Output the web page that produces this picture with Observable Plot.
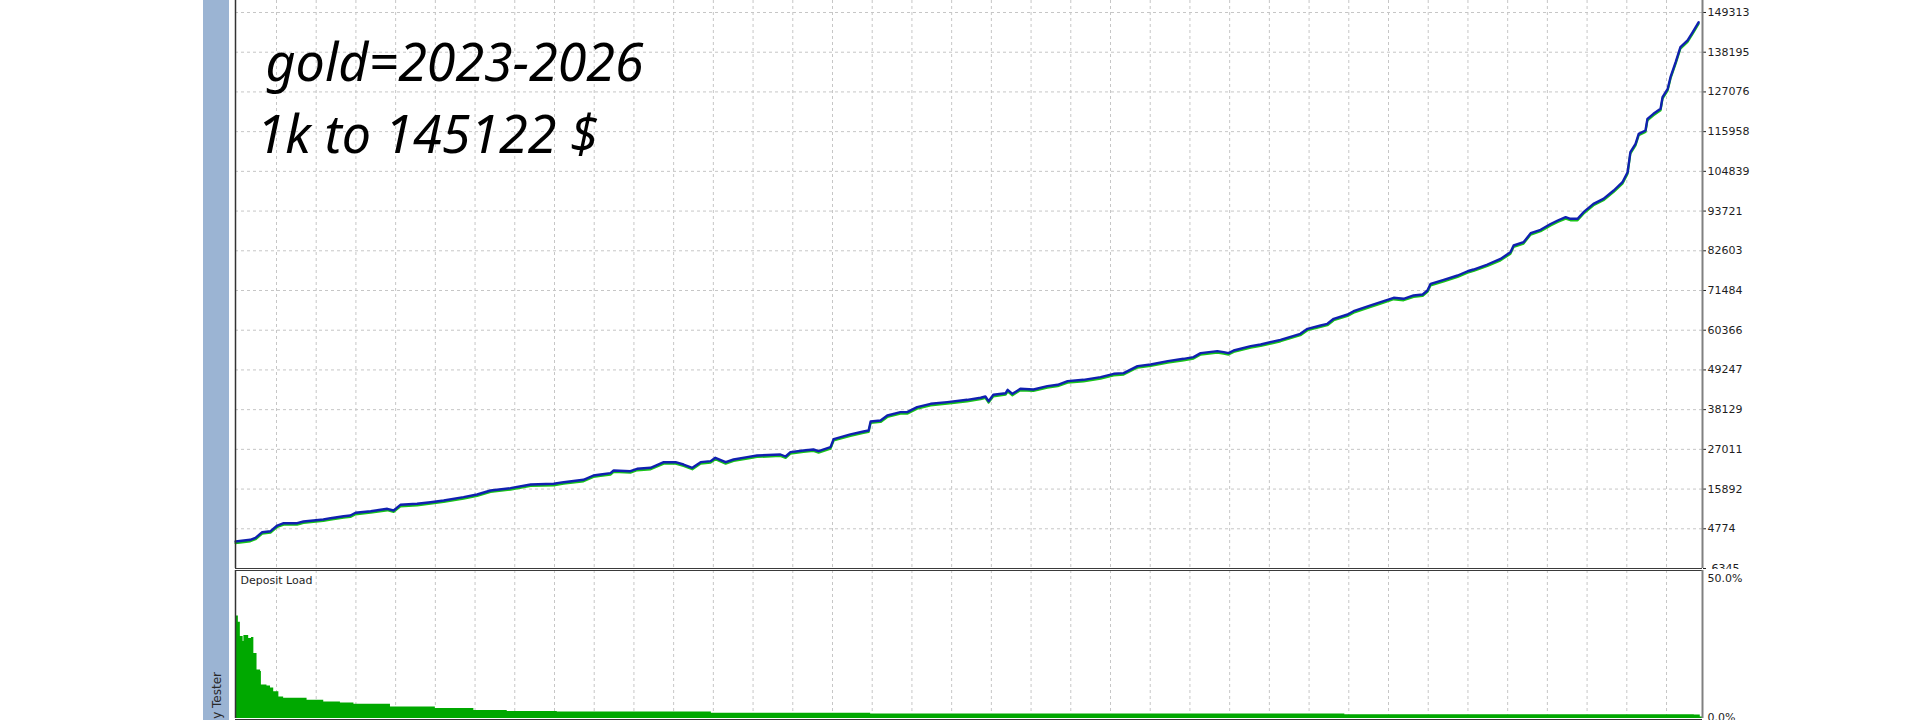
<!DOCTYPE html>
<html>
<head>
<meta charset="utf-8">
<script src="https://cdn.jsdelivr.net/npm/d3@7"></script>
<script src="https://cdn.jsdelivr.net/npm/@observablehq/plot@0.6"></script>
<style>
  html, body { margin: 0; padding: 0; background: #fff; width: 1920px; height: 720px; overflow: hidden; }
  #root { position: relative; width: 1920px; height: 720px; background: #fff; overflow: hidden; }
  #side { position: absolute; left: 203px; top: 0; width: 26px; height: 720px; background: #9bb4d3; z-index: 5; }
  #side svg { position: absolute; left: 0; top: 0; }
  #topPanel { position: absolute; left: 0; top: 0; z-index: 1; }
  #botPanel { position: absolute; left: 0; top: 569px; z-index: 2; }
</style>
</head>
<body>
<div id="root">
  <div id="topPanel"></div>
  <div id="botPanel"></div>
  <div id="side">
    <svg width="26" height="720">
      <text x="18" y="672" transform="rotate(-90 18 672)" text-anchor="end"
            font-family="DejaVu Sans" font-size="12" fill="#2a2a2a">Strategy Tester</text>
    </svg>
  </div>
</div>
<script>
// ---- data (x = test progress in month units, gridlines at each month) ----
const titleLines = ["gold=2023-2026", "1k to 145122 $"];
const panelLabel = "Deposit Load";

const yTicks = [-6345, 4774, 15892, 27011, 38129, 49247, 60366, 71484, 82603,
                93721, 104839, 115958, 127076, 138195, 149313];
const loadTicks = [0, 50];
const monthGrid = [0,1,2,3,4,5,6,7,8,9,10,11,12,13,14,15,16,17,18,19,20,21,22,23,24,25,26,27,28,29,30,31,32,33,34,35];

const balanceT = [
  -1.03,-0.66,-0.53,-0.36,-0.15, 0.02, 0.18, 0.52, 0.68, 1.18,
   1.36, 1.69, 1.86, 1.99, 2.37, 2.79, 2.95, 3.12, 3.54, 3.88,
   4.21, 4.71, 5.05, 5.39, 5.89, 6.40, 6.98, 7.23, 7.73, 7.98,
   8.16, 8.41, 8.49, 8.91, 9.08, 9.42, 9.75,10.05,10.25,10.47,
  10.68,10.93,11.05,11.31,11.51,11.85,12.10,12.69,12.82,12.94,
  13.27,13.52,13.65,13.95,14.03,14.45,14.78,14.91,14.96,15.21,
  15.38,15.71,15.88,16.13,16.47,16.89,17.39,17.73,17.85,17.93,
  18.05,18.36,18.41,18.53,18.73,19.06,19.41,19.67,19.92,20.32,
  20.75,21.08,21.33,21.68,22.01,22.44,22.84,23.09,23.27,23.69,
  23.85,23.97,24.10,24.53,24.78,25.28,25.78,25.96,26.29,26.46,
  26.62,26.97,27.12,27.55,27.80,28.13,28.38,28.63,28.86,28.98,
  29.06,29.39,29.74,29.99,30.14,30.49,30.82,31.07,31.15,31.40,
  31.58,31.83,32.08,32.26,32.46,32.58,32.76,32.91,33.16,33.41,
  33.67,33.89,34.02,34.09,34.22,34.30,34.47,34.52,34.67,34.85,
  34.90,35.03,35.10,35.23,35.35,35.53,35.66,35.81
];
const balanceV = [
   1200,  1690,  2250,  3820,  4100,  5690,  6340,  6340,  6810,  7370,
   7740,  8300,  8490,  9250,  9700, 10370,  9900, 11490, 11770, 12220,
  12690, 13620, 14370, 15490, 16140, 17170, 17370, 17820, 18490, 19690,
  19970, 20340, 21100, 20900, 21570, 21850, 23420, 23420, 22770, 21850,
  23420, 23700, 24650, 23420, 24170, 24830, 25290, 25570, 25010, 26220,
  26690, 26970, 26500, 27620, 29900, 31200, 32010, 32290, 34810, 35090,
  36490, 37420, 37420, 38820, 39760, 40220, 40880, 41450, 41810, 40500,
  42280, 42730, 43680, 42560, 43960, 43770, 44700, 45090, 46100, 46480,
  47230, 48160, 48350, 50310, 50770, 51710, 52360, 52830, 53950, 54500,
  54220, 53950, 54690, 55900, 56370, 57680, 59360, 60760, 61690, 62160,
  63560, 64770, 65690, 67290, 68210, 69440, 69160, 70090, 70370, 71480,
  73350, 74470, 75680, 76870, 77360, 78760, 80330, 82200, 84080, 85010,
  87530, 88470, 90100, 91080, 92010, 91550, 91550, 93410, 95750, 97150,
  99480,101800,104600,110200,112550,115350,116280,119550,120950,122350,
 125600,127950,131200,135400,139600,141480,143800,146600
];

const loadT = [-1.03,-0.96,-0.91,-0.84,-0.82,-0.70,-0.63,-0.57,-0.49,-0.40,
               -0.38,-0.24,-0.15,-0.07, 0.06, 0.18, 0.52, 0.77, 1.19, 1.61,
                1.95, 2.87, 4.00, 4.97, 5.81, 7.07,10.95,14.96,26.90,35.70,
               35.85,35.91];
const loadV = [34.6,32.5,27.7,26.0,28.0,27.0,27.4,22.0,16.4,15.9,
               11.3,11.0,10.3, 9.0, 7.3, 6.8, 6.8, 6.2, 5.6, 5.2,
                4.8, 3.9, 3.4, 2.7, 2.4, 2.2, 1.8, 1.5, 1.3, 1.2,
                0.5, 0.5];

// ---- build ----
const balance = balanceT.map((t, i) => ({t, v: balanceV[i]}));
const load = loadT.map((t, i) => ({t, v: loadV[i]}));
const xDomain = [-1.032, 35.906];
const gridStyle = {stroke: "#c6c6c6", strokeWidth: 1, strokeDasharray: "3,3"};

const topPlot = Plot.plot({
  width: 1920, height: 569,
  marginLeft: 235, marginRight: 218, marginTop: 0, marginBottom: 1,
  style: {background: "transparent", overflow: "visible", fontFamily: "DejaVu Sans", fontSize: "11px", color: "#1e1e1e"},
  x: {domain: xDomain, axis: null},
  y: {domain: [-6345, 152672], axis: "right", ticks: yTicks, tickFormat: d => String(d),
      tickSize: 3, tickPadding: 2, label: null},
  marks: [
    Plot.ruleY(yTicks, gridStyle),
    Plot.ruleX(monthGrid, gridStyle),
    Plot.line(balance, {x: "t", y: "v", stroke: "#19c419", strokeWidth: 2.2, dy: 1.5}),
    Plot.line(balance, {x: "t", y: "v", stroke: "#1020b0", strokeWidth: 2.4}),
    Plot.ruleX([xDomain[0]], {stroke: "#333", strokeWidth: 1.5}),
    Plot.ruleX([xDomain[1]], {stroke: "#808080", strokeWidth: 2}),
    Plot.ruleY([-6345], {stroke: "#3a3a3a", strokeWidth: 1.2}),
    Plot.text([titleLines[0]], {frameAnchor: "top-left", dx: 30, dy: 80, lineAnchor: "bottom",
      textAnchor: "start", fontSize: 52, fontStyle: "italic", fontFamily: "Noto Sans", fill: "#000"}),
    Plot.text([titleLines[1]], {frameAnchor: "top-left", dx: 21, dy: 152, lineAnchor: "bottom",
      textAnchor: "start", fontSize: 52, fontStyle: "italic", fontFamily: "Noto Sans", fill: "#000"})
  ]
});
document.getElementById("topPanel").append(topPlot);

const botPlot = Plot.plot({
  width: 1920, height: 151,
  marginLeft: 235, marginRight: 218, marginTop: 1, marginBottom: 2,
  style: {background: "white", overflow: "visible", fontFamily: "DejaVu Sans", fontSize: "11px", color: "#1e1e1e"},
  x: {domain: xDomain, axis: null},
  y: {domain: [0, 50], axis: null},
  marks: [
    Plot.ruleX(monthGrid, gridStyle),
    Plot.areaY(load, {x: "t", y: "v", curve: "step-after", fill: "#00a800"}),
    Plot.ruleY([50], {stroke: "#3a3a3a", strokeWidth: 1.2}),
    Plot.ruleY([0], {stroke: "#333", strokeWidth: 1.2, dy: 1}),
    Plot.ruleX([xDomain[0]], {stroke: "#333", strokeWidth: 1.5}),
    Plot.ruleX([xDomain[1]], {stroke: "#808080", strokeWidth: 2}),
    Plot.text([panelLabel], {frameAnchor: "top-left", dx: 5, dy: 6, lineAnchor: "top",
      textAnchor: "start", fill: "#1e1e1e", fontSize: 11}),
    Plot.text([loadTicks[1]], {y: d => d, frameAnchor: "right", dx: 5, dy: 8, textAnchor: "start",
      text: d => d.toFixed(1) + "%", fill: "#1e1e1e"}),
    Plot.text([loadTicks[0]], {y: d => d, frameAnchor: "right", dx: 5, dy: -1, textAnchor: "start",
      text: d => d.toFixed(1) + "%", fill: "#1e1e1e"})
  ]
});
document.getElementById("botPanel").append(botPlot);
</script>
</body>
</html>
